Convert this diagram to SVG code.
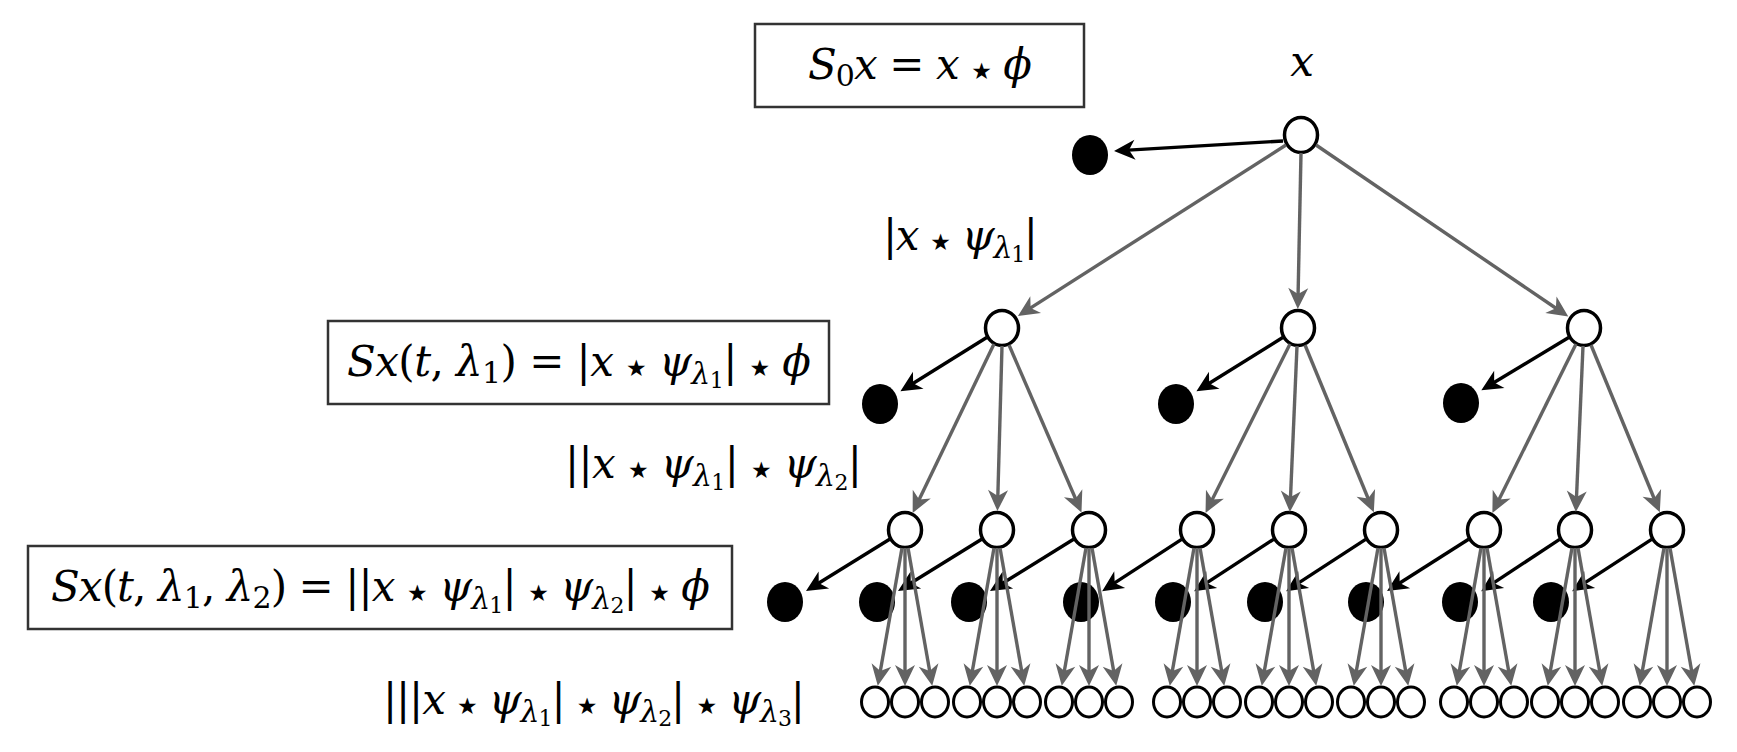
<svg xmlns="http://www.w3.org/2000/svg" width="1737" height="752" viewBox="0 0 1737 752">
<style>
.n{fill:#fff;stroke:#000;stroke-width:3.5}
.lf{fill:#fff;stroke:#000;stroke-width:3}
.d{fill:#000}
.g{stroke:#636363;stroke-width:3.4;fill:none;marker-end:url(#ag)}
.b{stroke:#000;stroke-width:3.4;fill:none;marker-end:url(#ab)}
.box{fill:#fff;stroke:#333;stroke-width:2.5}
.m{font-family:"DejaVu Serif","Liberation Serif",serif;font-size:42px;fill:#000}
.i{font-style:italic}
.s{font-size:30px}
.ss{font-size:22px}
.st{font-family:"DejaVu Sans",sans-serif;font-size:23px}
</style>
<defs>
<marker id="ag" markerUnits="userSpaceOnUse" viewBox="-12 -11 24 22" markerWidth="24" markerHeight="22" refX="0" refY="0" orient="auto"><path d="M10,0 L-11,-10 L-5,0 L-11,10 Z" fill="#636363"/></marker>
<marker id="ab" markerUnits="userSpaceOnUse" viewBox="-12 -11 24 22" markerWidth="24" markerHeight="22" refX="0" refY="0" orient="auto"><path d="M10,0 L-11,-10 L-5,0 L-11,10 Z" fill="#000"/></marker>
</defs>

<g id="label-S0">
<rect class="box" x="755" y="24" width="329" height="83"/>
<text class="m" x="808" y="79" textLength="224" lengthAdjust="spacing"><tspan class="i">S</tspan><tspan class="s" dy="7">0</tspan><tspan class="i" dy="-7">x</tspan> = <tspan class="i">x</tspan> <tspan class="st">★</tspan> <tspan class="i">ϕ</tspan></text>
</g>
<g id="label-x"><text class="m i" x="1302" y="76" text-anchor="middle">x</text></g>
<g id="label-U1">
<text class="m" x="883" y="250" textLength="155" lengthAdjust="spacing">|<tspan class="i">x</tspan> <tspan class="st">★</tspan> <tspan class="i">ψ</tspan><tspan class="s i" dy="8">λ</tspan><tspan class="ss" dy="4">1</tspan><tspan dy="-12">|</tspan></text>
</g>
<g id="label-S1">
<rect class="box" x="328" y="321" width="501" height="83"/>
<text class="m" x="347" y="376" textLength="464" lengthAdjust="spacing"><tspan class="i">Sx</tspan>(<tspan class="i">t</tspan>, <tspan class="i">λ</tspan><tspan class="s" dy="7">1</tspan><tspan dy="-7">) = |</tspan><tspan class="i">x</tspan> <tspan class="st">★</tspan> <tspan class="i">ψ</tspan><tspan class="s i" dy="8">λ</tspan><tspan class="ss" dy="4">1</tspan><tspan dy="-12">| </tspan><tspan class="st">★</tspan> <tspan class="i">ϕ</tspan></text>
</g>
<g id="label-U2">
<text class="m" x="565" y="478" textLength="297" lengthAdjust="spacing">||<tspan class="i">x</tspan> <tspan class="st">★</tspan> <tspan class="i">ψ</tspan><tspan class="s i" dy="8">λ</tspan><tspan class="ss" dy="4">1</tspan><tspan dy="-12">| </tspan><tspan class="st">★</tspan> <tspan class="i">ψ</tspan><tspan class="s i" dy="8">λ</tspan><tspan class="ss" dy="4">2</tspan><tspan dy="-12">|</tspan></text>
</g>
<g id="label-S2">
<rect class="box" x="28" y="546" width="704" height="83"/>
<text class="m" x="51" y="601" textLength="659" lengthAdjust="spacing"><tspan class="i">Sx</tspan>(<tspan class="i">t</tspan>, <tspan class="i">λ</tspan><tspan class="s" dy="7">1</tspan><tspan dy="-7">, </tspan><tspan class="i">λ</tspan><tspan class="s" dy="7">2</tspan><tspan dy="-7">) = ||</tspan><tspan class="i">x</tspan> <tspan class="st">★</tspan> <tspan class="i">ψ</tspan><tspan class="s i" dy="8">λ</tspan><tspan class="ss" dy="4">1</tspan><tspan dy="-12">| </tspan><tspan class="st">★</tspan> <tspan class="i">ψ</tspan><tspan class="s i" dy="8">λ</tspan><tspan class="ss" dy="4">2</tspan><tspan dy="-12">| </tspan><tspan class="st">★</tspan> <tspan class="i">ϕ</tspan></text>
</g>
<g id="label-U3">
<text class="m" x="383" y="714" textLength="422" lengthAdjust="spacing">|||<tspan class="i">x</tspan> <tspan class="st">★</tspan> <tspan class="i">ψ</tspan><tspan class="s i" dy="8">λ</tspan><tspan class="ss" dy="4">1</tspan><tspan dy="-12">| </tspan><tspan class="st">★</tspan> <tspan class="i">ψ</tspan><tspan class="s i" dy="8">λ</tspan><tspan class="ss" dy="4">2</tspan><tspan dy="-12">| </tspan><tspan class="st">★</tspan> <tspan class="i">ψ</tspan><tspan class="s i" dy="8">λ</tspan><tspan class="ss" dy="4">3</tspan><tspan dy="-12">|</tspan></text>
</g>

<g id="root"><ellipse class="n" cx="1301" cy="135" rx="16.5" ry="17.5"/></g>
<g id="out0"><ellipse class="d" cx="1090" cy="155" rx="18" ry="20"/></g>

<g id="n1a"><ellipse class="n" cx="1002" cy="328" rx="16.5" ry="17.5"/></g>
<g id="n1b"><ellipse class="n" cx="1298" cy="328" rx="16.5" ry="17.5"/></g>
<g id="n1c"><ellipse class="n" cx="1584" cy="328" rx="16.5" ry="17.5"/></g>
<g id="out1a"><ellipse class="d" cx="880" cy="404" rx="18" ry="20"/></g>
<g id="out1b"><ellipse class="d" cx="1176" cy="404" rx="18" ry="20"/></g>
<g id="out1c"><ellipse class="d" cx="1461" cy="403" rx="18" ry="20"/></g>

<g id="n2a1"><ellipse class="n" cx="905" cy="530" rx="16.5" ry="17.5"/></g>
<g id="n2a2"><ellipse class="n" cx="997" cy="530" rx="16.5" ry="17.5"/></g>
<g id="n2a3"><ellipse class="n" cx="1089" cy="530" rx="16.5" ry="17.5"/></g>
<g id="n2b1"><ellipse class="n" cx="1197" cy="530" rx="16.5" ry="17.5"/></g>
<g id="n2b2"><ellipse class="n" cx="1289" cy="530" rx="16.5" ry="17.5"/></g>
<g id="n2b3"><ellipse class="n" cx="1381" cy="530" rx="16.5" ry="17.5"/></g>
<g id="n2c1"><ellipse class="n" cx="1484" cy="530" rx="16.5" ry="17.5"/></g>
<g id="n2c2"><ellipse class="n" cx="1575" cy="530" rx="16.5" ry="17.5"/></g>
<g id="n2c3"><ellipse class="n" cx="1667" cy="530" rx="16.5" ry="17.5"/></g>

<g id="out2a1"><ellipse class="d" cx="785" cy="602" rx="18" ry="20"/></g>
<g id="out2a2"><ellipse class="d" cx="877" cy="602" rx="18" ry="20"/></g>
<g id="out2a3"><ellipse class="d" cx="969" cy="602" rx="18" ry="20"/></g>
<g id="out2b1"><ellipse class="d" cx="1081" cy="602" rx="18" ry="20"/></g>
<g id="out2b2"><ellipse class="d" cx="1173" cy="602" rx="18" ry="20"/></g>
<g id="out2b3"><ellipse class="d" cx="1265" cy="602" rx="18" ry="20"/></g>
<g id="out2c1"><ellipse class="d" cx="1366" cy="602" rx="18" ry="20"/></g>
<g id="out2c2"><ellipse class="d" cx="1460" cy="602" rx="18" ry="20"/></g>
<g id="out2c3"><ellipse class="d" cx="1551" cy="602" rx="18" ry="20"/></g>

<g id="leaves">
<g id="l01"><ellipse class="lf" cx="875" cy="702" rx="13.5" ry="15"/></g>
<g id="l02"><ellipse class="lf" cx="905" cy="702" rx="13.5" ry="15"/></g>
<g id="l03"><ellipse class="lf" cx="935" cy="702" rx="13.5" ry="15"/></g>
<g id="l04"><ellipse class="lf" cx="967" cy="702" rx="13.5" ry="15"/></g>
<g id="l05"><ellipse class="lf" cx="997" cy="702" rx="13.5" ry="15"/></g>
<g id="l06"><ellipse class="lf" cx="1027" cy="702" rx="13.5" ry="15"/></g>
<g id="l07"><ellipse class="lf" cx="1059" cy="702" rx="13.5" ry="15"/></g>
<g id="l08"><ellipse class="lf" cx="1089" cy="702" rx="13.5" ry="15"/></g>
<g id="l09"><ellipse class="lf" cx="1119" cy="702" rx="13.5" ry="15"/></g>
<g id="l10"><ellipse class="lf" cx="1167" cy="702" rx="13.5" ry="15"/></g>
<g id="l11"><ellipse class="lf" cx="1197" cy="702" rx="13.5" ry="15"/></g>
<g id="l12"><ellipse class="lf" cx="1227" cy="702" rx="13.5" ry="15"/></g>
<g id="l13"><ellipse class="lf" cx="1259" cy="702" rx="13.5" ry="15"/></g>
<g id="l14"><ellipse class="lf" cx="1289" cy="702" rx="13.5" ry="15"/></g>
<g id="l15"><ellipse class="lf" cx="1319" cy="702" rx="13.5" ry="15"/></g>
<g id="l16"><ellipse class="lf" cx="1351" cy="702" rx="13.5" ry="15"/></g>
<g id="l17"><ellipse class="lf" cx="1381" cy="702" rx="13.5" ry="15"/></g>
<g id="l18"><ellipse class="lf" cx="1411" cy="702" rx="13.5" ry="15"/></g>
<g id="l19"><ellipse class="lf" cx="1454" cy="702" rx="13.5" ry="15"/></g>
<g id="l20"><ellipse class="lf" cx="1484" cy="702" rx="13.5" ry="15"/></g>
<g id="l21"><ellipse class="lf" cx="1514" cy="702" rx="13.5" ry="15"/></g>
<g id="l22"><ellipse class="lf" cx="1545" cy="702" rx="13.5" ry="15"/></g>
<g id="l23"><ellipse class="lf" cx="1575" cy="702" rx="13.5" ry="15"/></g>
<g id="l24"><ellipse class="lf" cx="1605" cy="702" rx="13.5" ry="15"/></g>
<g id="l25"><ellipse class="lf" cx="1637" cy="702" rx="13.5" ry="15"/></g>
<g id="l26"><ellipse class="lf" cx="1667" cy="702" rx="13.5" ry="15"/></g>
<g id="l27"><ellipse class="lf" cx="1697" cy="702" rx="13.5" ry="15"/></g>
</g>

<g id="connectors">
<path class="b" d="M1283,141 L1124,150.4"/>
<path class="g" d="M1286,145 L1026.4,310.6"/>
<path class="g" d="M1301,153 L1298,299"/>
<path class="g" d="M1316,145 L1560,311"/>

<path class="b" d="M986.7,337.5 L908.9,386"/>
<path class="b" d="M1282.7,337.5 L1204.9,386"/>
<path class="b" d="M1568.7,337.5 L1489.9,385"/>

<path class="g" d="M994,344 L917,504"/>
<path class="g" d="M1002,346 L997.7,501"/>
<path class="g" d="M1009,345 L1077.5,503.3"/>
<path class="g" d="M1290,344 L1210,504"/>
<path class="g" d="M1297,346 L1290.3,502"/>
<path class="g" d="M1305,345 L1370,503"/>
<path class="g" d="M1576,344 L1496.8,504"/>
<path class="g" d="M1583,346 L1576.3,502"/>
<path class="g" d="M1591,345 L1656,503"/>

<path class="b" d="M889.6,539.3 L814.5,585.7"/>
<path class="b" d="M981.6,539.3 L906.5,585.7"/>
<path class="b" d="M1073.6,539.3 L998.5,585.7"/>
<path class="b" d="M1181.6,539.3 L1110.5,585.7"/>
<path class="b" d="M1273.6,539.3 L1202.5,585.7"/>
<path class="b" d="M1365.6,539.3 L1294.5,585.7"/>
<path class="b" d="M1468.6,539.3 L1395.5,585.7"/>
<path class="b" d="M1559.6,539.3 L1489.5,585.7"/>
<path class="b" d="M1651.6,539.3 L1580.5,585.7"/>

<path class="g" d="M902,548 L879.5,675.8"/><path class="g" d="M905,548 L905,676"/><path class="g" d="M908,548 L930.5,675.8"/>
<path class="g" d="M994,548 L971.5,675.8"/><path class="g" d="M997,548 L997,676"/><path class="g" d="M1000,548 L1022.5,675.8"/>
<path class="g" d="M1086,548 L1063.5,675.8"/><path class="g" d="M1089,548 L1089,676"/><path class="g" d="M1092,548 L1114.5,675.8"/>
<path class="g" d="M1194,548 L1171.5,675.8"/><path class="g" d="M1197,548 L1197,676"/><path class="g" d="M1200,548 L1222.5,675.8"/>
<path class="g" d="M1286,548 L1263.5,675.8"/><path class="g" d="M1289,548 L1289,676"/><path class="g" d="M1292,548 L1314.5,675.8"/>
<path class="g" d="M1378,548 L1355.5,675.8"/><path class="g" d="M1381,548 L1381,676"/><path class="g" d="M1384,548 L1406.5,675.8"/>
<path class="g" d="M1481,548 L1458.5,675.8"/><path class="g" d="M1484,548 L1484,676"/><path class="g" d="M1487,548 L1509.5,675.8"/>
<path class="g" d="M1572,548 L1549.5,675.8"/><path class="g" d="M1575,548 L1575,676"/><path class="g" d="M1578,548 L1600.5,675.8"/>
<path class="g" d="M1664,548 L1641.5,675.8"/><path class="g" d="M1667,548 L1667,676"/><path class="g" d="M1670,548 L1692.5,675.8"/>
</g>
</svg>
